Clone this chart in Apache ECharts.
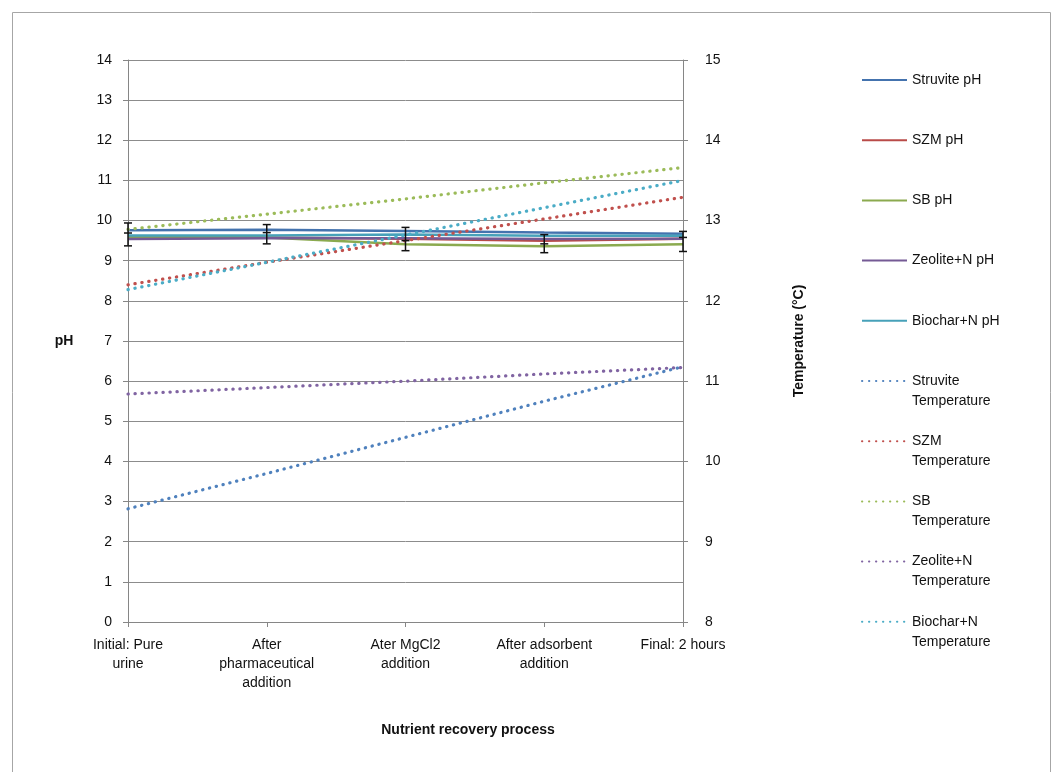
<!DOCTYPE html>
<html>
<head>
<meta charset="utf-8">
<script src="https://cdn.jsdelivr.net/npm/echarts@6/dist/echarts.min.js"></script>
<style>
  html, body { margin: 0; padding: 0; background: #fff; }
  #chart { width: 1058px; height: 772px; }
</style>
</head>
<body>
<div id="chart"></div>
<script>
// categories on the x axis
const categories = ['Initial: Pure\nurine', 'After\npharmaceutical\naddition', 'Ater MgCl2\naddition', 'After adsorbent\naddition', 'Final: 2 hours'];

// pH series (left axis)
const struvitePH = [9.76, 9.77, 9.74, 9.70, 9.67];
const szmPH      = [9.58, 9.58, 9.55, 9.50, 9.55];
const sbPH       = [9.60, 9.58, 9.41, 9.36, 9.41];
const zeolitePH  = [9.54, 9.56, 9.56, 9.54, 9.55];
const biocharPH  = [9.63, 9.63, 9.65, 9.62, 9.62];

// temperature series (right axis, °C)
const struviteT = [9.41, 9.85, 10.30, 10.75, 11.18];
const szmT      = [12.20, 12.48, 12.75, 13.02, 13.29];
const sbT       = [12.89, 13.08, 13.27, 13.47, 13.66];
const zeoliteT  = [10.84, 10.92, 11.00, 11.09, 11.17];
const biocharT  = [12.14, 12.48, 12.82, 13.16, 13.50];

// error bars (pH)
const errLow  = [9.37, 9.42, 9.25, 9.20, 9.23];
const errMid  = [9.69, 9.70, 9.50, 9.42, 9.58];
const errHigh = [9.94, 9.90, 9.83, 9.65, 9.73];

const phNames = ['Struvite pH', 'SZM pH', 'SB pH', 'Zeolite+N pH', 'Biochar+N pH'];
const tNames = ['Struvite Temperature', 'SZM Temperature', 'SB Temperature', 'Zeolite+N Temperature', 'Biochar+N Temperature'];
const phColors = ['#4473AE', '#B94B48', '#8BAA4F', '#755A95', '#47A1B9'];
const tColors = ['#4F81BD', '#C0504D', '#9BBB59', '#8064A2', '#4BACC6'];

const phData = [struvitePH, szmPH, sbPH, zeolitePH, biocharPH];
const tData = [struviteT, szmT, sbT, zeoliteT, biocharT];

const font = 'Liberation Sans, Arial, sans-serif';

const series = [];
phData.forEach((d, i) => {
  series.push({
    name: phNames[i], type: 'line', data: d, yAxisIndex: 0,
    showSymbol: false, symbol: 'none', silent: true,
    lineStyle: { color: phColors[i], width: 2.5 },
    itemStyle: { color: phColors[i] }
  });
});
tData.forEach((d, i) => {
  series.push({
    name: tNames[i], type: 'line', data: d, yAxisIndex: 1,
    showSymbol: false, symbol: 'none', silent: true, z: 3,
    lineStyle: { color: tColors[i], width: 3.2, type: [0.3, 6.7], cap: 'round' },
    itemStyle: { color: tColors[i] }
  });
});

// error bars
series.push({
  type: 'custom', yAxisIndex: 0, silent: true, z: 4,
  data: categories.map((c, i) => [i, errLow[i], errMid[i], errHigh[i]]),
  renderItem: function (params, api) {
    const lo = api.coord([api.value(0), api.value(1)]);
    const mid = api.coord([api.value(0), api.value(2)]);
    const hi = api.coord([api.value(0), api.value(3)]);
    const w = 4;
    const st = { stroke: '#111', lineWidth: 1.5 };
    return {
      type: 'group',
      children: [
        { type: 'line', shape: { x1: hi[0], y1: hi[1], x2: lo[0], y2: lo[1] }, style: st },
        { type: 'line', shape: { x1: hi[0] - w, y1: hi[1], x2: hi[0] + w, y2: hi[1] }, style: st },
        { type: 'line', shape: { x1: lo[0] - w, y1: lo[1], x2: lo[0] + w, y2: lo[1] }, style: st },
        { type: 'line', shape: { x1: mid[0] - w, y1: mid[1], x2: mid[0] + w, y2: mid[1] }, style: st }
      ]
    };
  }
});

// leading blank line keeps the icon level with the first text line
const legendFormatter = function (name) {
  if (name.endsWith(' Temperature')) {
    return '\n' + name.replace(' Temperature', '') + '\nTemperature';
  }
  return '\n' + name + '\n ';
};

const option = {
  animation: false,
  backgroundColor: '#fff',
  textStyle: { fontFamily: font },
  grid: { left: 128, right: 375, top: 60, bottom: 150, containLabel: false },
  legend: {
    orient: 'vertical', left: 856, top: 45,
    itemWidth: 45, itemHeight: 14, itemGap: 0.2,
    data: phNames.concat(tNames),
    formatter: legendFormatter,
    itemStyle: { opacity: 0 },
    textStyle: { fontSize: 14, color: '#111', lineHeight: 20, fontFamily: font }
  },
  xAxis: {
    type: 'category', data: categories, boundaryGap: false,
    axisLine: { lineStyle: { color: '#868686' } },
    axisTick: { show: true, alignWithLabel: true, length: 5, lineStyle: { color: '#868686' } },
    axisLabel: { color: '#111', fontSize: 14, lineHeight: 19, margin: 14, interval: 0, fontFamily: font }
  },
  yAxis: [
    {
      type: 'value', min: 0, max: 14, interval: 1, position: 'left',
      axisLine: { show: true, lineStyle: { color: '#868686' } },
      axisTick: { show: true, length: 5, lineStyle: { color: '#868686' } },
      axisLabel: { color: '#111', fontSize: 14, margin: 16, fontFamily: font },
      splitLine: { show: true, lineStyle: { color: '#8c8c8c', width: 1 } }
    },
    {
      type: 'value', min: 8, max: 15, interval: 1, position: 'right',
      axisLine: { show: true, lineStyle: { color: '#868686' } },
      axisTick: { show: true, length: 5, lineStyle: { color: '#868686' } },
      axisLabel: { color: '#111', fontSize: 14, margin: 22, fontFamily: font },
      splitLine: { show: false }
    }
  ],
  graphic: [
    { type: 'rect', left: 10, top: 10, shape: { width: 1038, height: 800 }, style: { fill: 'none', stroke: '#a6a6a6', lineWidth: 1 }, silent: true, z: -1 },
    { type: 'text', x: 64, y: 341, style: { text: 'pH', font: 'bold 14px ' + font, fill: '#111', textAlign: 'center', textVerticalAlign: 'middle' } },
    { type: 'text', x: 799, y: 341, rotation: Math.PI / 2, style: { text: 'Temperature (°C)', font: 'bold 14px ' + font, fill: '#111', textAlign: 'center', textVerticalAlign: 'middle' } },
    { type: 'text', x: 468, y: 730, style: { text: 'Nutrient recovery process', font: 'bold 14px ' + font, fill: '#111', textAlign: 'center', textVerticalAlign: 'middle' } }
  ],
  series: series
};

const myChart = echarts.init(document.getElementById('chart'));
myChart.setOption(option);
window.addEventListener('resize', () => myChart.resize());
</script>
</body>
</html>
